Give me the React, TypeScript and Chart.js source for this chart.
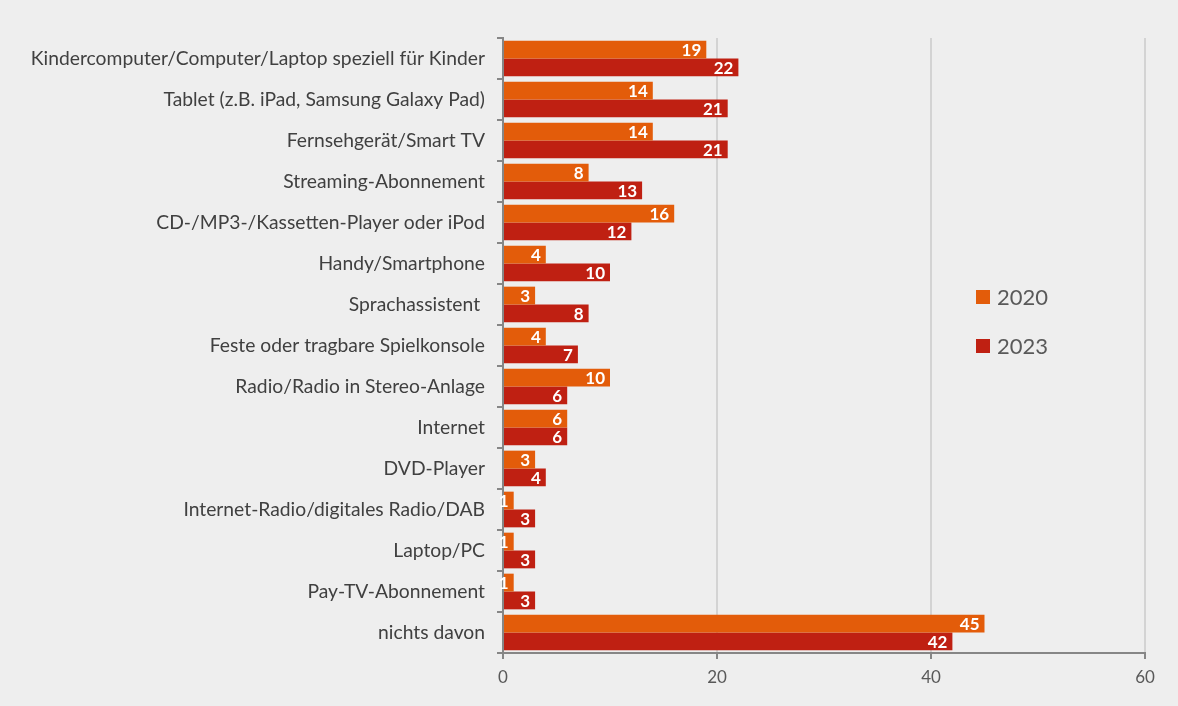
import React, { useEffect, useRef } from "react";
import { Chart, registerables } from "chart.js";

Chart.register(...registerables);

const categories = [
  "Kindercomputer/Computer/Laptop speziell für Kinder",
  "Tablet (z.B. iPad, Samsung Galaxy Pad)",
  "Fernsehgerät/Smart TV",
  "Streaming-Abonnement",
  "CD-/MP3-/Kassetten-Player oder iPod",
  "Handy/Smartphone",
  "Sprachassistent ",
  "Feste oder tragbare Spielkonsole",
  "Radio/Radio in Stereo-Anlage",
  "Internet",
  "DVD-Player",
  "Internet-Radio/digitales Radio/DAB",
  "Laptop/PC",
  "Pay-TV-Abonnement",
  "nichts davon",
];

const values2020 = [19, 14, 14, 8, 16, 4, 3, 4, 10, 6, 3, 1, 1, 1, 45];
const values2023 = [22, 21, 21, 13, 12, 10, 8, 7, 6, 6, 4, 3, 3, 3, 42];

const seriesLabels = ["2020", "2023"];
const xTicks = [0, 20, 40, 60];

const ORANGE = "#e35c0a";
const RED = "#bf2012";
const FONT = "Lato, 'Open Sans', sans-serif";

// White bold value labels placed at the inner end of each bar
const valueLabels = {
  id: "valueLabels",
  afterDatasetsDraw(chart: any) {
    const ctx = chart.ctx;
    ctx.save();
    ctx.font = `bold 17px ${FONT}`;
    ctx.fillStyle = "#ffffff";
    ctx.textAlign = "right";
    ctx.textBaseline = "middle";
    chart.data.datasets.forEach((ds: any, di: number) => {
      const meta = chart.getDatasetMeta(di);
      meta.data.forEach((bar: any, i: number) => {
        const v = ds.data[i];
        ctx.fillText(String(v), bar.x - 5, bar.y + 1);
      });
    });
    ctx.restore();
  },
};

// Legend drawn inside the plot area on the right
const insideLegend = {
  id: "insideLegend",
  afterDraw(chart: any) {
    const ctx = chart.ctx;
    const colors = [ORANGE, RED];
    ctx.save();
    ctx.font = `22px ${FONT}`;
    ctx.textBaseline = "middle";
    ctx.textAlign = "left";
    seriesLabels.forEach((lab, i) => {
      const y = 297 + i * 49;
      ctx.fillStyle = colors[i];
      ctx.fillRect(976, y - 7, 14, 14);
      ctx.fillStyle = "#595959";
      ctx.fillText(lab, 997, y + 1);
    });
    ctx.restore();
  },
};

const background = {
  id: "background",
  beforeDraw(chart: any) {
    const ctx = chart.ctx;
    ctx.save();
    ctx.fillStyle = "#eeeeee";
    ctx.fillRect(0, 0, chart.width, chart.height);
    ctx.restore();
  },
};

export default function App() {
  const ref = useRef<HTMLCanvasElement>(null);

  useEffect(() => {
    document.body.style.margin = "0";
    document.body.style.background = "#eeeeee";
    const chart = new Chart(ref.current!, {
      type: "bar",
      data: {
        labels: categories,
        datasets: [
          {
            label: seriesLabels[0],
            data: values2020,
            backgroundColor: ORANGE,
            categoryPercentage: 0.87,
            barPercentage: 1,
          },
          {
            label: seriesLabels[1],
            data: values2023,
            backgroundColor: RED,
            categoryPercentage: 0.87,
            barPercentage: 1,
          },
        ],
      },
      options: {
        indexAxis: "y",
        animation: false,
        responsive: false,
        layout: { padding: { top: 38, right: 33, left: 0, bottom: 0 } },
        plugins: {
          legend: { display: false },
          tooltip: { enabled: false },
        },
        scales: {
          x: {
            min: 0,
            max: 60,
            afterBuildTicks: (s: any) => {
              s.ticks = xTicks.map((v) => ({ value: v }));
            },
            afterFit: (s: any) => {
              s.height = 53;
            },
            ticks: {
              color: "#595959",
              font: { family: FONT, size: 17 },
              padding: 8,
            },
            grid: {
              color: (c: any) => (c.tick && c.tick.value === 0 ? "rgba(0,0,0,0)" : "#d3d3d3"),
              lineWidth: 2,
              tickColor: "#868686",
              tickLength: 6,
            },
            border: { color: "#868686", width: 2 },
          },
          y: {
            afterFit: (s: any) => {
              s.width = 503;
            },
            ticks: {
              color: "#404040",
              font: { family: FONT, size: 19.3 },
              padding: 12,
              autoSkip: false,
            },
            grid: {
              drawOnChartArea: false,
              offset: true,
              tickColor: "#868686",
              tickLength: 6,
              lineWidth: 2,
            },
            border: { color: "#868686", width: 2 },
          },
        },
      },
      plugins: [background, valueLabels, insideLegend],
    });
    return () => chart.destroy();
  }, []);

  return (
    <div style={{ width: 1178, height: 706, background: "#eeeeee" }}>
      <canvas ref={ref} width={1178} height={706} style={{ display: "block" }} />
    </div>
  );
}
